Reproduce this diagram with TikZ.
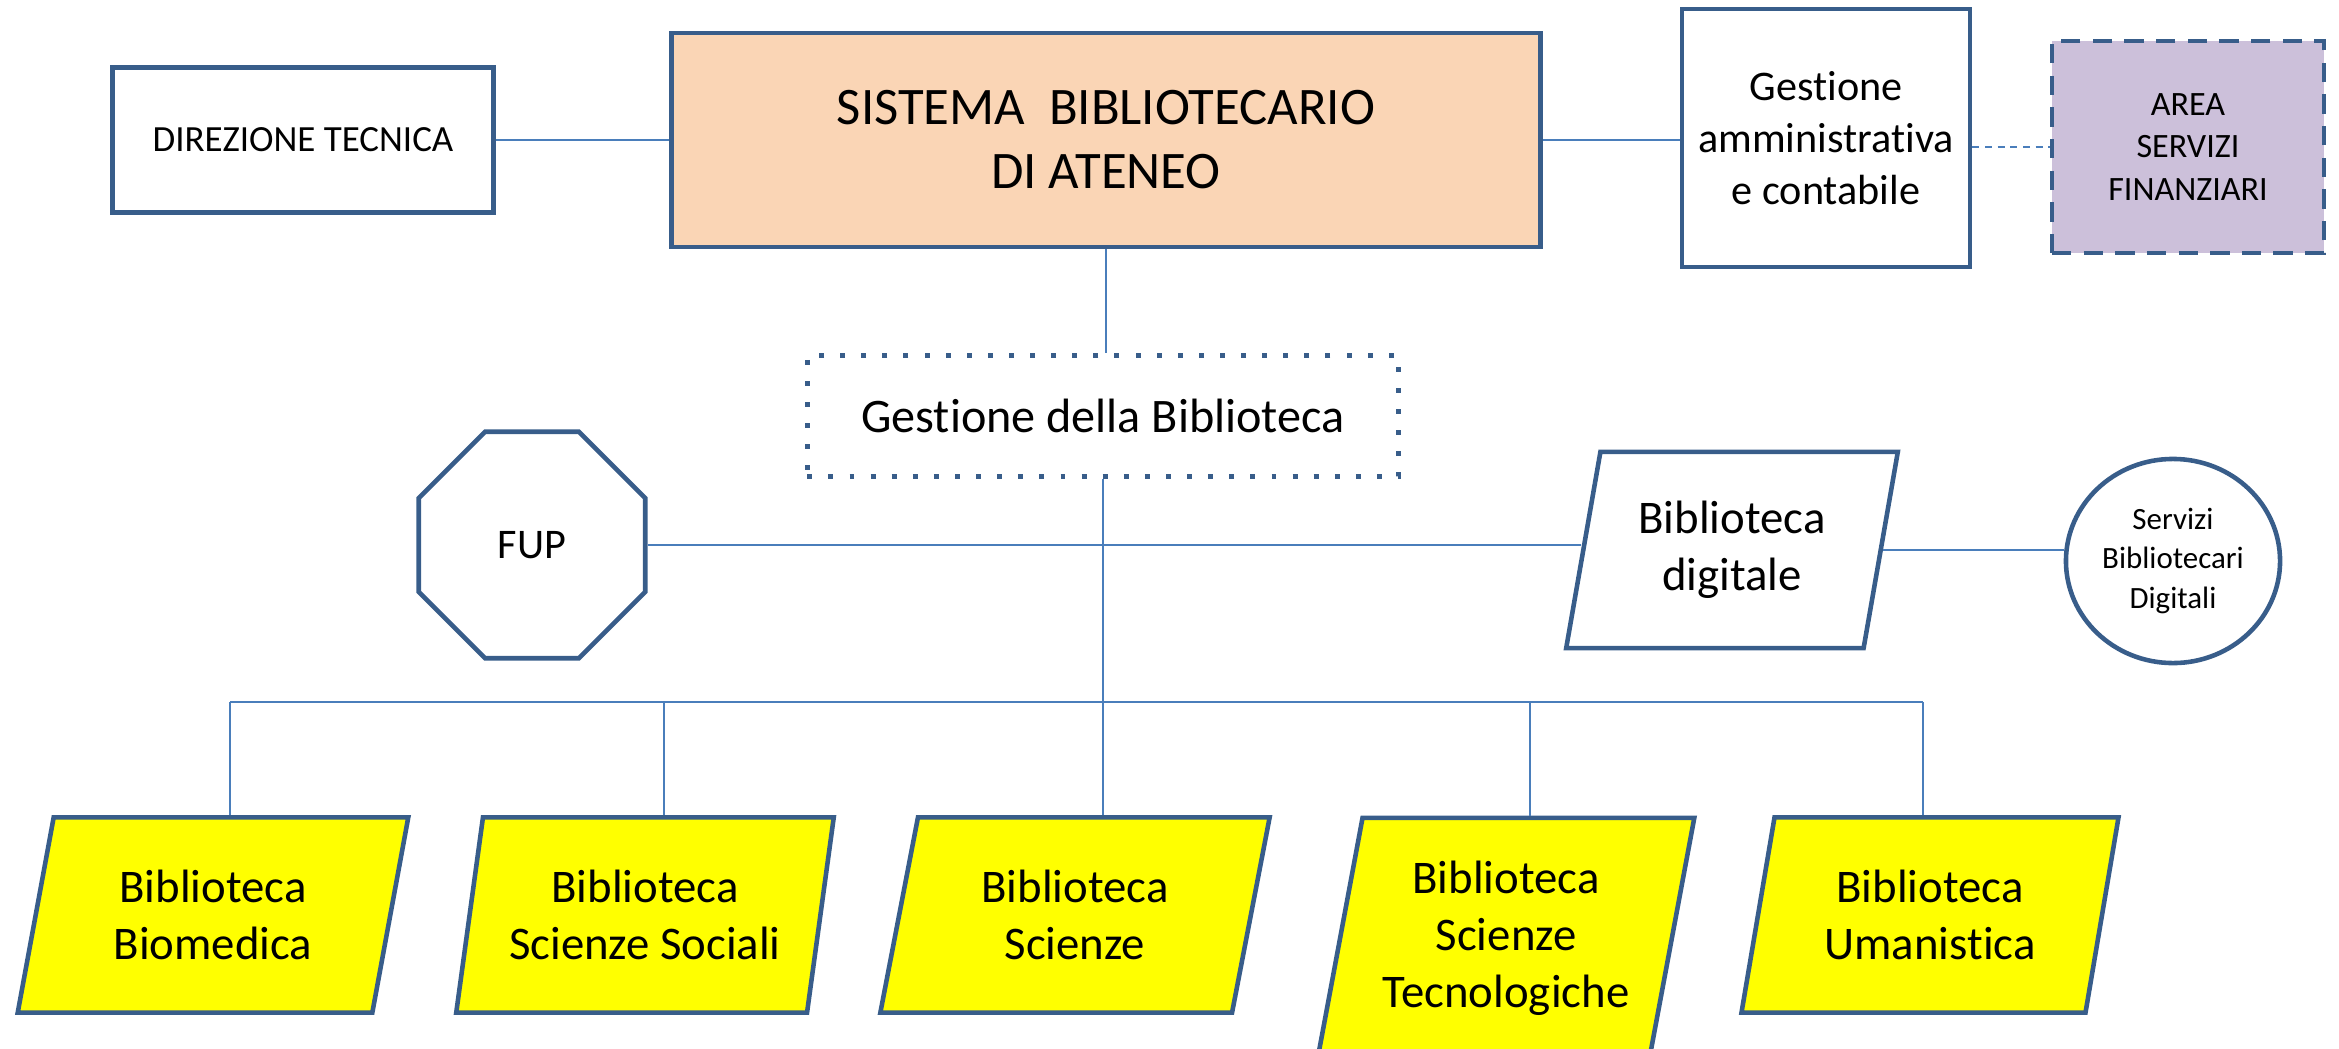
\documentclass[tikz,border=0pt]{standalone}
\usepackage{fontspec}
\setmainfont[Ligatures={NoCommon}]{Carlito}
\usepackage{tikz}
\usetikzlibrary{shapes.geometric,calc}
\definecolor{bordo}{RGB}{56,93,138}
\definecolor{linea}{RGB}{74,126,187}
\definecolor{pesca}{RGB}{250,213,181}
\definecolor{lilla}{RGB}{204,192,218}
\definecolor{giallo}{RGB}{255,255,0}

\begin{document}
\begin{tikzpicture}[x=0.01cm,y=-0.01cm,
  box/.style={draw=bordo,line width=1.3pt,align=center,inner sep=0pt},
  para/.style={box,trapezium,trapezium left angle=76,trapezium right angle=104,trapezium stretches=true},
  biblio/.style={para,fill=giallo,font=\fontsize{13.3}{16.2}\selectfont},
  conn/.style={draw=linea,line width=0.5pt}]
\path[use as bounding box,clip] (0,0) rectangle (2339,1048);
\node[box,minimum width=3.81cm,minimum height=1.45cm,font=\fontsize{10.5}{12.8}\selectfont] (dir) at (303,140) {DIREZIONE TECNICA};
\node[box,fill=pesca,minimum width=8.69cm,minimum height=2.14cm,font=\fontsize{15}{18.2}\selectfont] (sba) at (1106,140) {SISTEMA\ \ BIBLIOTECARIO\\DI ATENEO};
\node[box,minimum width=2.88cm,minimum height=2.58cm,font=\fontsize{12}{14.8}\selectfont] (amm) at (1826,138) {Gestione\\amministrativa\\e contabile};
\node[box,fill=lilla,dash pattern=on 5.5pt off 3.5pt,minimum width=2.72cm,minimum height=2.12cm,font=\fontsize{9.7}{12.2}\selectfont] (asf) at (2188,147) {AREA\\SERVIZI\\FINANZIARI};
\node[box,dash pattern=on 1.4pt off 4.6pt,minimum width=5.91cm,minimum height=1.21cm,font=\fontsize{13.7}{16.7}\selectfont] (gest) at (1103,416) {Gestione della Biblioteca};
\node[box,regular polygon,regular polygon sides=8,minimum size=2.45cm,font=\fontsize{12}{14.6}\selectfont] (fup) at (532,545) {FUP};
\node[para,minimum width=3.32cm,minimum height=1.96cm,font=\fontsize{13.3}{16.2}\selectfont] (dig) at (1732,550) {Biblioteca\\digitale};
\node[box,ellipse,minimum width=2.14cm,minimum height=2.04cm,font=\fontsize{8.8}{11.1}\selectfont] (sbd) at (2173,561) {Servizi\\Bibliotecari\\Digitali};

\node[biblio,minimum width=3.92cm,minimum height=1.95cm] (bm) at (213,915) {Biblioteca\\Biomedica};
\node[biblio,minimum width=3.78cm,minimum height=1.95cm] (ss) at (645,915) {Biblioteca\\Scienze Sociali};
\node[biblio,minimum width=3.91cm,minimum height=1.95cm] (sc) at (1075,915) {Biblioteca\\Scienze};
\node[biblio,minimum width=3.79cm,minimum height=2.40cm] (st) at (1506,938) {Biblioteca\\Scienze\\Tecnologiche};
\node[biblio,minimum width=3.78cm,minimum height=1.95cm] (um) at (1930,915) {Biblioteca\\Umanistica};

\draw[conn] (dir) -- (sba);
\draw[conn] (sba.east) -- (sba.east -| amm.west);
\draw[conn,dash pattern=on 2pt off 1.6pt] (amm.east |- asf.west) -- (asf.west);
\draw[conn] (sba.south) -- (sba.south |- gest.north);
\draw[conn] (gest.south) -- (gest.south |- sc.north);
\draw[conn] (fup.east) -- (fup.east -| dig.west);
\draw[conn] (dig.east) -- (dig.east -| sbd.west);
\coordinate (bus) at (1103,702);
\draw[conn] ($(bus -| bm.center)+(17,0)$) -- ($(bus -| um.center)+(-7,0)$);
\foreach \b/\dx in {bm/17,ss/19,st/24,um/-7}
  \draw[conn] ($(bus -| \b.center)+(\dx,0)$) -- ($(\b.north -| \b.center)+(\dx,0)$);
\end{tikzpicture}
\end{document}
